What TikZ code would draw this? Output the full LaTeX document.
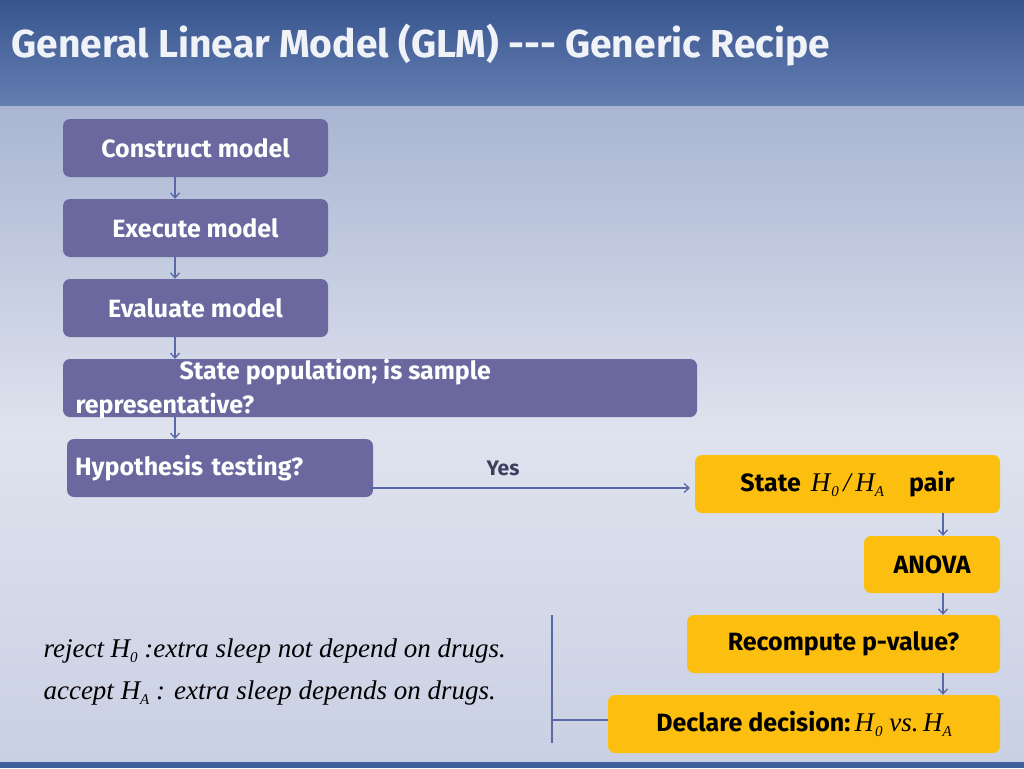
\documentclass[tikz,border=0pt]{standalone}
\usepackage{fontspec}
\setmainfont{Fira Sans}
\newfontfamily\mathish{Liberation Serif}
\usetikzlibrary{arrows.meta}
\definecolor{purp}{HTML}{6A689E}
\definecolor{gold}{HTML}{FDBF0F}
\definecolor{bar}{HTML}{3E5E9E}
\definecolor{bgtop}{HTML}{A9B5D2}
\definecolor{bgmid}{HTML}{C9D0E3}
\definecolor{lineb}{HTML}{5A68A8}
\newcommand{\sbx}[1]{\raisebox{-5pt}{\fontsize{15}{16}\selectfont\mdseries #1}}
\tikzset{
 pbox/.style={fill=purp,rounded corners=7pt,text=white,font=\bfseries\fontsize{25}{28}\selectfont},
 ybox/.style={fill=gold,rounded corners=7pt,text=black,font=\bfseries\fontsize{25}{28}\selectfont},
 arr/.style={draw=lineb,line width=1.3pt,-{Straight Barb[length=5pt,width=9pt]}},
 ln/.style={draw=lineb,line width=1.5pt},
 it/.style={font=\mathish\itshape\fontsize{27}{30}\selectfont,anchor=west}
}
\begin{document}
\begin{tikzpicture}[x=1pt,y=-1pt]
\useasboundingbox (0,0) rectangle (1024,768);
\shade[top color=bgtop, bottom color=bgmid, middle color=bgmid!60!white] (0,105) rectangle (1024,762);
\shade[top color=bar!90!black, bottom color=bar!80!white] (0,0) rectangle (1024,105);
\fill[bar] (0,762) rectangle (1024,768);
\node[anchor=west,text=white!92!bar,font=\bfseries\fontsize{39}{42}\selectfont] (title) at (8,45) {General Linear Model (GLM) -{}-{}- Generic Recipe};

\node[pbox,minimum width=265pt,minimum height=58pt] (c) at (195.5,148) {Construct model};
\node[pbox,minimum width=265pt,minimum height=58pt] (e) at (195.5,228) {Execute model};
\node[pbox,minimum width=265pt,minimum height=58pt] (v) at (195.5,308) {Evaluate model};
\node[pbox,minimum width=634pt,minimum height=58pt] (s) at (380,388) {};
\node[text=white,font=\bfseries\fontsize{25}{28}\selectfont,anchor=west] (s1) at (176,372) {State population; is sample};
\node[text=white,font=\bfseries\fontsize{25}{28}\selectfont,anchor=west] (s2) at (72,406) {representative?};
\node[pbox,minimum width=306pt,minimum height=58pt,text width=290pt,align=left] (h) at (220,468) {Hypothesis testing?};

\draw[arr] (c.south -| 175,0) -- (e.north -| 175,0);
\draw[arr] (e.south -| 175,0) -- (v.north -| 175,0);
\draw[arr] (v.south -| 175,0) -- (175,359);
\draw[arr] (175,417) -- (175,439);

\node[ybox,minimum width=305pt,minimum height=58pt] (st) at (847.5,484) {State \,{\mathish\mdseries\itshape\fontsize{27}{28}\selectfont H\kern1pt\sbx{0}\,/\,H\sbx{A}}\quad pair};
\node[ybox,minimum width=136pt,minimum height=57pt] (an) at (932,564.5) {ANOVA};
\node[ybox,minimum width=313pt,minimum height=58pt] (rc) at (843.5,644) {Recompute p-value?};
\node[ybox,minimum width=392pt,minimum height=58pt] (dd) at (804,724) {Declare decision:\,{\mathish\mdseries\itshape\fontsize{27}{28}\selectfont H\kern1pt\sbx{0} vs.\,H\sbx{A}}};

\draw[arr] (369,488) -- (690,488);
\node[text=purp!60!black,font=\bfseries\fontsize{21}{24}\selectfont] (yes) at (503,468) {Yes};
\draw[arr] (st.south -| 943,0) -- (an.north -| 943,0);
\draw[arr] (an.south -| 943,0) -- (rc.north -| 943,0);
\draw[arr] (rc.south -| 943,0) -- (dd.north -| 943,0);

\coordinate (bt) at (552,615);
\coordinate (bb) at (552,743);
\coordinate (bm) at (552,720);
\draw[ln] (bt) -- (bb);
\draw[ln] (bm) -- (dd.west |- bm);

\node[it] (r1) at (40,651) {reject H\sbx{0} :extra sleep not depend on drugs.};
\node[it] (r2) at (40,693) {accept H\sbx{A} : extra sleep depends on drugs.};
\end{tikzpicture}
\end{document}
